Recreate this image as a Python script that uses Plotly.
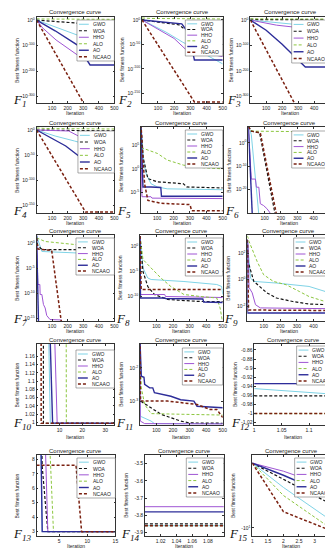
import plotly.graph_objects as go

W, H = 333, 550
SERIES = ['GWO', 'WOA', 'HHO', 'ALO', 'AO', 'NCAAO']

# ---------------- data: (iteration, best fitness) ----------------
F1_GWO = [(1, 1.0), (144, 1e-31), (263, 1e-59), (500, 1e-105)]
F1_WOA = [(1, 1.0), (263, 1e-12), (500, 1e-40)]
F1_HHO = [(1, 1.0), (40, 1e-31), (126, 1e-78), (263, 1e-137), (500, 1e-155)]
F1_ALO = [(1, 1e5), (60, 1e4), (500, 1e3)]
F1_AO = [(1, 1.0), (120, 1e-42), (263, 1e-98), (344, 1e-176), (500, 1e-176)]
F1_NCAAO = [(1, 1.0), (300, 1e-323)]

F2_GWO = [(1, 1.0), (150, 1e-25), (250, 1e-45), (500, 1e-90)]
F2_WOA = [(1, 1.0), (150, 1e-6), (230, 1e-10), (260, 1e-18), (500, 1e-35)]
F2_HHO = [(1, 1.0), (200, 1e-38), (270, 1e-60), (500, 1e-75)]
F2_ALO = [(1, 1e4), (60, 1e3), (500, 1e2)]
F2_AO = [(1, 1.0), (247, 1e-8), (289, 1e-27), (325, 1e-82), (500, 1e-82)]
F2_NCAAO = [(1, 1.0), (325, 1e-168), (500, 1e-168)]

F3_GWO = [(1, 1.0), (265, 1e-16), (500, 1e-25)]
F3_WOA = [(1, 1e4), (50, 1e2), (500, 1e1)]
F3_HHO = [(1, 1.0), (165, 1e-20), (280, 1e-28), (295, 1e-56), (500, 1e-70)]
F3_ALO = [(1, 1e5), (500, 1e4)]
F3_AO = [(1, 1.0), (100, 1e-40), (200, 1e-95), (280, 1e-145), (345, 1e-184), (500, 1e-184)]
F3_NCAAO = [(1, 1.0), (275, 1e-323)]

F4_GWO = [(1, 1.0), (120, 1e-12), (244, 1e-22), (300, 1e-27), (500, 1e-32)]
F4_WOA = [(1, 1.0), (200, 1e-1), (500, 1e-2)]
F4_HHO = [(1, 1.0), (207, 1e-2), (269, 1e-12), (313, 1e-16), (375, 1e-32), (500, 1e-40)]
F4_ALO = [(1, 1e4), (60, 1e3), (500, 1e2)]
F4_AO = [(1, 1.0), (188, 1e-32), (313, 1e-62), (344, 1e-76), (350, 1e-84), (500, 1e-84)]
F4_NCAAO = [(1, 1.0), (315, 1e-164), (500, 1e-164)]

F5_GWO = [(1, 3e9), (19, 12.6), (33, 8e-2), (62, 6.3e-4), (102, 1.26e-4), (161, 5e-5), (500, 3.2e-5)]
F5_WOA = [(1, 3e9), (13, 3.2e2), (23, 12.6), (43, 7.9e-3), (102, 1.6e-3), (260, 6.3e-4), (280, 1.26e-4), (500, 7.9e-5)]
F5_HHO = [(1, 3e9), (7, 1e-6), (62, 1e-6), (68, 5e-7), (500, 4e-7)]
F5_ALO = [(1, 1e9), (7, 3.2e4), (102, 2e3), (161, 79.0), (260, 6.3), (357, 2.0), (500, 1.0)]
F5_AO = [(1, 3e9), (13, 1.26e-4), (62, 1.26e-4), (122, 1e-4), (126, 1.26e-6), (500, 1.26e-6)]
F5_NCAAO = [(1, 3e9), (23, 6.3e-4), (43, 1.6e-7), (122, 4e-8), (300, 2e-8), (310, 1e-9), (500, 1e-9)]

F6_GWO = [(1, 1e7), (5, 1e7), (19, 3.2e3), (65, 1e-31)]
F6_WOA = [(1, 1e7), (20, 1e5), (70, 2e4), (165, 1e-31)]
F6_HHO = [(1, 1e7), (19, 2.5e-16), (44, 2.5e-16), (50, 7.9e-20), (65, 7.9e-20), (74, 6.3e-27),
          (94, 1e-27), (114, 5e-29), (130, 1.6e-30), (140, 1e-31)]
F6_ALO = [(1, 1e7), (15, 1.6e5), (35, 1e5), (500, 5e4)]
F6_AO = [(1, 1e7), (10, 1e-5), (25, 1e-31)]
F6_NCAAO = [(1, 1e7), (20, 1e5), (74, 2e4), (173, 1e-31)]

F7_GWO = [(1, 30.0), (24, 1e-1), (35, 2e-2), (266, 1e-2), (500, 6.3e-3)]
F7_WOA = [(1, 10.0), (5, 5e-1), (35, 5e-2), (266, 4.5e-2), (500, 4e-2)]
F7_HHO = [(1, 30.0), (9, 5e-9), (22, 5e-9), (24, 5e-11), (35, 5e-11), (45, 5e-13), (56, 1e-13),
          (66, 3.2e-15), (87, 5e-16), (161, 4e-16), (170, 1e-20)]
F7_ALO = [(1, 10.0), (3, 10.0), (56, 2.0), (140, 1.0), (245, 5e-1), (500, 1.26e-1)]
F7_AO = [(1, 30.0), (5, 1e-3), (14, 1e-17)]
F7_NCAAO = [(1, 10.0), (10, 6.3e-2), (98, 3.2e-2), (165, 1e-17)]

F8_GWO = [(1, 1e2), (19, 4e-5), (48, 4e-7), (68, 2e-7), (266, 7.9e-8), (464, 2e-8), (494, 7.9e-9), (500, 2e-10)]
F8_WOA = [(1, 1e2), (19, 7.9e-6), (48, 7.9e-9), (88, 2e-10), (167, 2e-11), (365, 7.9e-12), (500, 7.9e-12)]
F8_HHO = [(1, 1e2), (4, 2e-10), (150, 2e-10), (155, 7.9e-11), (500, 5e-11)]
F8_ALO = [(1, 1e2), (19, 2e-3), (68, 4e-5), (127, 4e-7), (187, 7.9e-9), (266, 2e-10), (365, 7.9e-11),
          (464, 4e-11), (484, 4e-13), (500, 4e-16)]
F8_AO = [(1, 1e2), (4, 4e-11), (150, 4e-11), (155, 3.2e-11), (380, 2.5e-11), (385, 6.3e-12), (500, 5e-12)]
F8_NCAAO = [(1, 1e2), (8, 2e-9), (500, 2e-9)]

F9_GWO = [(1, 1e3), (20, 1.26), (40, 7.2e-1), (177, 5.4e-1), (373, 3e-1), (470, 1.26e-1), (495, 4e-2), (500, 2.5e-3)]
F9_WOA = [(1, 1e3), (5, 23.0), (40, 7.2e-1), (118, 1e-1), (177, 4e-2), (275, 2.2e-2), (373, 1.4e-2), (500, 1.26e-2)]
F9_HHO = [(1, 1e3), (5, 4e2), (11, 2.5e-1), (30, 1e-1), (50, 1.26e-2), (79, 7.2e-3), (500, 6.3e-3)]
F9_ALO = [(1, 2e3), (11, 7.6e2), (60, 23.0), (99, 2.3), (158, 7.2e-1), (236, 4e-1), (314, 1.26e-1),
          (373, 5.2e-2), (470, 2.2e-2), (500, 1.1e-2)]
F9_AO = [(1, 1e3), (2, 3e-3), (500, 3e-3)]
F9_NCAAO = [(1, 1e3), (8, 5e-3), (500, 4.6e-3)]

F10_GWO = [(1, 6.0), (5, 1.3), (6, 0.998), (34, 0.998)]
F10_WOA = [(1, 12.0), (2, 12.0), (3, 0.998), (34, 0.998)]
F10_HHO = [(1, 8.0), (8, 1.19), (9, 0.998), (34, 0.998)]
F10_ALO = [(1, 5.0), (12, 5.0), (13, 0.998), (34, 0.998)]
F10_AO = [(1, 10.0), (6, 1.19), (7, 0.999), (34, 0.998)]
F10_NCAAO = [(1, 12.7), (2, 0.998), (34, 0.998)]

F11_GWO = [(1, 6.3e-2), (3, 3.5e-4), (68, 2.5e-4), (88, 2.1e-4), (500, 2.1e-4)]
F11_WOA = [(1, 6.3e-2), (5, 1e-3), (128, 4e-4), (246, 2.5e-4), (300, 2.2e-4), (500, 2.15e-4)]
F11_HHO = [(1, 6.3e-2), (3, 2.5e-4), (29, 2.1e-4), (500, 2.05e-4)]
F11_ALO = [(1, 6.3e-2), (9, 2.5e-3), (29, 7.9e-4), (68, 4.2e-4), (266, 4e-4), (500, 3.8e-4)]
F11_AO = [(1, 6.3e-2), (9, 5.6e-3), (25, 5.2e-3), (29, 3.2e-3), (59, 2.5e-3), (78, 2.5e-3), (88, 1.8e-3),
          (128, 1.6e-3), (187, 1.4e-3), (246, 1.1e-3), (326, 1e-3), (345, 7e-4), (500, 6.3e-4)]
F11_NCAAO = [(1, 6.3e-2), (3, 1e-3), (167, 1e-3), (266, 8.9e-4), (345, 7.9e-4), (424, 5.6e-4),
             (464, 5.6e-4), (500, 3.2e-4)]

F12_GWO = [(1, -0.945), (2, -1.03)]
F12_WOA = [(1, -0.961), (500, -0.961)]
F12_HHO = [(1, -0.934), (500, -0.934)]
F12_ALO = [(1, -1.0), (500, -1.0)]
F12_AO = [(1, -0.934), (500, -0.934)]
F12_NCAAO = [(1, -1.0), (500, -1.0)]

F13_GWO = [(1, 30.0), (2, 3.0), (15, 3.0)]
F13_WOA = [(1, 30.0), (2, 7.5), (3, 3.0), (15, 3.0)]
F13_HHO = [(1, 30.0), (3, 3.0), (15, 3.0)]
F13_ALO = [(1, 30.0), (4, 3.0), (15, 3.0)]
F13_AO = [(1, 30.0), (2, 3.0), (15, 3.0)]
F13_NCAAO = [(1, 7.6), (8, 7.6), (9, 3.0), (15, 3.0)]

F14_GWO = [(1, -3.86), (2, -3.86)]
F14_WOA = [(1, -3.85), (2, -3.85)]
F14_HHO = [(1, -3.75), (2, -3.75)]
F14_ALO = [(1, -3.86), (2, -3.86)]
F14_AO = [(1, -3.78), (2, -3.78)]
F14_NCAAO = [(1, -3.86), (2, -3.86)]

F15_GWO = [(1, -2.0), (2, -5.0), (3.5, -9.0)]
F15_WOA = [(1, -2.0), (2, -4.0), (3.5, -7.0)]
F15_HHO = [(1, -2.0), (2, -3.0), (3.5, -5.0)]
F15_ALO = [(1, -2.0), (2, -6.0), (3.5, -10.0)]
F15_AO = [(1, -2.0), (2, -3.5), (3.5, -6.0)]
F15_NCAAO = [(1, -2.0), (2, -8.0), (3.5, -10.3)]

DATA = {}
for _k in range(1, 16):
    DATA[_k] = {s: globals()['F%d_%s' % (_k, s)] for s in SERIES}

# ---------------- styles / layout ----------------
STYLE = {
    'GWO': dict(color='#7fd3e6', width=1.0),
    'WOA': dict(color='#141414', width=1.2, dash='3px,2px'),
    'HHO': dict(color='#9f55d4', width=1.0),
    'ALO': dict(color='#8cc63f', width=1.0, dash='3px,2px'),
    'AO': dict(color='#2d2d99', width=1.4),
    'NCAAO': dict(color='#7a2010', width=1.5, dash='3px,2px'),
}


def sup(e):
    return '10<sup>%d</sup>' % e


IT_TICKS = [100, 200, 300, 400, 500]
PANELS = {
    1: dict(box=(28, 9, 107, 95), leg=(69, 12, 107, 53), yt='log', yr=[-325, 12], ye=[0, -100, -200, -300], xr=[1, 500], xt=IT_TICKS),
    2: dict(box=(135, 9, 217, 95), leg=(179, 12, 217, 48), yt='log', yr=[-170, 6], ye=[0, -50, -100, -150], xr=[1, 500], xt=IT_TICKS),
    3: dict(box=(245, 9, 326, 95), leg=(287, 12, 326, 55), yt='log', yr=[-325, 12], ye=[0, -100, -200, -300], xr=[1, 500], xt=IT_TICKS),
    4: dict(box=(28, 119, 107, 205), leg=(70, 123, 107, 165), yt='log', yr=[-166, 6], ye=[0, -50, -100, -150], xr=[1, 500], xt=IT_TICKS),
    5: dict(box=(134, 119, 217, 205), leg=(179, 122, 217, 160), yt='log', yr=[-9.5, 9], ye=[5, 0, -5], xr=[1, 500], xt=IT_TICKS),
    6: dict(box=(243, 119, 326, 205), leg=(287, 123, 326, 160), yt='log', yr=[-30.2, 6.8], ye=[0, -10, -20], xr=[1, 500], xt=IT_TICKS),
    7: dict(box=(28, 227, 107, 313), leg=(68, 230, 107, 267), yt='log', yr=[-15.6, 1.6], ye=[0, -5, -10, -15], xr=[1, 500], xt=IT_TICKS),
    8: dict(box=(133, 227, 217, 313), leg=(179, 230, 217, 268), yt='log', yr=[-15, 2.2], ye=[0, -5, -10], xr=[1, 500], xt=IT_TICKS),
    9: dict(box=(242, 227, 326, 313), leg=(289, 230, 326, 268), yt='log', yr=[-3.13, 3.36], ye=[2, 0, -2], xr=[1, 500], xt=IT_TICKS),
    10: dict(box=(28, 336, 107, 417), leg=(68, 342, 107, 380), yt='linear', yr=[0.994, 1.19],
             yv=[1, 1.02, 1.04, 1.06, 1.08, 1.1, 1.12, 1.14, 1.16], xr=[0, 34], xt=[10, 20, 30]),
    11: dict(box=(133, 336, 217, 417), leg=(176, 340, 217, 377), yt='log', yr=[-3.72, -1.28], ye=[-2, -3], xr=[1, 500], xt=IT_TICKS),
    12: dict(box=(249, 336, 328, 417), leg=(292, 338, 328, 377), yt='linear', yr=[-1.025, -0.847],
             yv=[-0.86, -0.88, -0.9, -0.92, -0.94, -0.96, -0.98, -1, -1.02], xr=[1, 1.142], xt=[1, 1.05, 1.1]),
    13: dict(box=(28, 447, 108, 528), leg=(69, 450, 108, 490), yt='linear', yr=[2.7, 8.3],
             yv=[3, 4, 5, 6, 7, 8], xr=[1, 15], xt=[5, 10, 15]),
    14: dict(box=(138, 447, 218, 528), leg=(180, 450, 218, 489), yt='linear', yr=[-3.92, -3.45],
             yv=[-3.5, -3.6, -3.7, -3.8, -3.9], xr=[1, 1.1], xt=[1.02, 1.04, 1.06, 1.08]),
    15: dict(box=(247, 447, 326, 528), leg=(290, 450, 326, 489), yt='linear', yr=[-11, -1],
             yv=[-10], ytext=['-10<sup>1</sup>'], xr=[1, 3.5], xt=[1, 1.5, 2, 2.5, 3, 3.5]),
}

FONT = 'Liberation Sans'
fig = go.Figure()
layout = dict(width=W, height=H, margin=dict(l=0, r=0, t=0, b=0), paper_bgcolor='white',
              plot_bgcolor='white', showlegend=False)
shapes, annots = [], []

AXCOMMON = dict(showline=True, linecolor='#333333', linewidth=0.6, mirror='ticks', ticks='inside',
                ticklen=2, tickwidth=0.5, tickcolor='#333333', showgrid=False, zeroline=False,
                tickfont=dict(size=5, family=FONT, color='#222222'))


def px(x):
    return x / W


def py(y):
    return 1 - y / H


def note(text, x, y, size, xanchor='center', family=FONT, angle=0, color='#222'):
    return dict(text=text, x=px(x), y=py(y), xref='paper', yref='paper', xanchor=xanchor,
                yanchor='middle', showarrow=False, textangle=angle,
                font=dict(size=size, family=family, color=color))


for k, P in PANELS.items():
    sfx = '' if k == 1 else str(k)
    L, T, R, B = P['box']
    xa = dict(AXCOMMON, domain=[px(L), px(R)], anchor='y' + sfx, range=P['xr'],
              tickvals=P['xt'], ticktext=[('%g' % v) for v in P['xt']])
    ya = dict(AXCOMMON, domain=[py(B), py(T)], anchor='x' + sfx, type=P['yt'], range=P['yr'])
    if P['yt'] == 'log':
        ya['tickvals'] = [10.0 ** e for e in P['ye']]
        ya['ticktext'] = [sup(e) for e in P['ye']]
    else:
        ya['tickvals'] = P['yv']
        ya['ticktext'] = P.get('ytext', [('%g' % v) for v in P['yv']])
    layout['xaxis' + sfx] = xa
    layout['yaxis' + sfx] = ya

    for s in SERIES:
        pts = DATA[k][s]
        fig.add_trace(go.Scatter(x=[p[0] for p in pts], y=[p[1] for p in pts], mode='lines',
                                 line=STYLE[s], xaxis='x' + sfx, yaxis='y' + sfx,
                                 hoverinfo='skip', name=s))

    cx = (L + R) / 2
    gap = 12 if k in (10, 11, 12) else 10
    annots.append(note('Convergence curve', cx, T - 4.5, 6))
    annots.append(note('Iteration', cx, B + gap, 5))
    annots.append(note('Best fitness function', L - 20, (T + B) / 2, 5, angle=-90))
    annots.append(note('<i>F<sub>%d</sub></i>' % k, L - 26, B - 2, 13, xanchor='left',
                       family='Liberation Serif', color='#111'))

    # legend box
    lx0, ly0, lx1, ly1 = P['leg']
    shapes.append(dict(type='rect', xref='paper', yref='paper', x0=px(lx0), x1=px(lx1),
                       y0=py(ly1), y1=py(ly0), line=dict(color='#555555', width=0.5),
                       fillcolor='white', layer='above'))
    rh = (ly1 - ly0 - 2) / 6.0
    for i, s in enumerate(SERIES):
        yc = ly0 + 1 + rh * (i + 0.5)
        st = STYLE[s]
        shapes.append(dict(type='line', xref='paper', yref='paper', x0=px(lx0 + 2), x1=px(lx0 + 12),
                           y0=py(yc), y1=py(yc), layer='above',
                           line=dict(color=st['color'], width=st['width'], dash=st.get('dash', 'solid'))))
        annots.append(note(s, lx0 + 14, yc, 5, xanchor='left'))

layout['shapes'] = shapes
layout['annotations'] = annots
fig.update_layout(**layout)
fig.write_html('out.html')
